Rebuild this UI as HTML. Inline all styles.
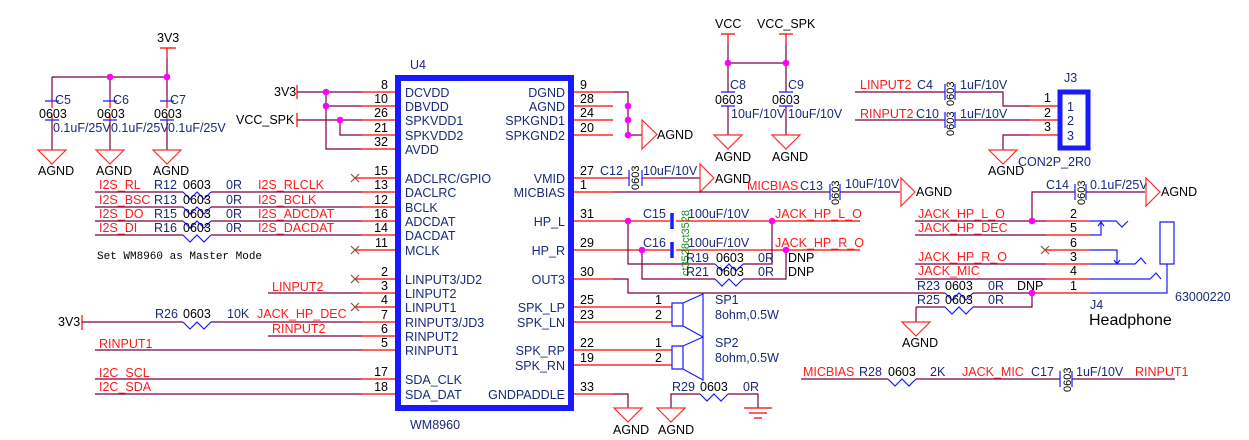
<!DOCTYPE html>
<html><head><meta charset="utf-8"><style>
html,body{margin:0;padding:0;background:#fff;width:1249px;height:440px;overflow:hidden}
svg{display:block}
text{font-family:"Liberation Sans",Arial,sans-serif;font-size:12.5px;fill:#1a2a7a}
.r{fill:#ff1a1a}.k{fill:#000}.g{fill:#1a8a1a}
.w{stroke:#7a0040;stroke-width:1.2;fill:none}
.p{stroke:#ff0000;stroke-width:1.2;fill:none}
.b{stroke:#1a1aff;stroke-width:1.2;fill:none}
.gnd{stroke:#ff2a2a;stroke-width:1.2;fill:#fff}
.d{fill:#ff00ff}
.m{font-family:"Liberation Mono",monospace;font-size:11px;fill:#000}
.x{stroke:#8a5040;stroke-width:1.2}
</style></head><body>
<svg width="1249" height="440" viewBox="0 0 1249 440" xmlns="http://www.w3.org/2000/svg">
<rect x="398" y="78" width="173" height="330" fill="none" stroke="#1a1aff" stroke-width="6"/>
<text x="410" y="69">U4</text>
<text x="410" y="429">WM8960</text>

<g class="p">
<path d="M362 92H395M362 106H395M362 120H395M362 135H395M362 149H395M355 178H395M362 192H395M362 207H395M362 221H395M362 235H395M355 250H395M355 279H395M362 293H395M355 307H395M362 322H395M362 336H395M362 350H395M362 379H395M362 394H395"/>
</g>
<g text-anchor="end">
<text class="k" x="388" y="89">8</text><text class="k" x="388" y="103">10</text><text class="k" x="388" y="117">26</text><text class="k" x="388" y="132">21</text><text class="k" x="388" y="146">32</text>
<text class="k" x="388" y="175">15</text><text class="k" x="388" y="189">13</text><text class="k" x="388" y="204">12</text><text class="k" x="388" y="218">16</text><text class="k" x="388" y="232">14</text><text class="k" x="388" y="247">11</text>
<text class="k" x="388" y="276">2</text><text class="k" x="388" y="290">3</text><text class="k" x="388" y="304">4</text><text class="k" x="388" y="319">7</text><text class="k" x="388" y="333">6</text><text class="k" x="388" y="347">5</text>
<text class="k" x="388" y="376">17</text><text class="k" x="388" y="391">18</text>
</g>
<g>
<text x="405" y="97">DCVDD</text><text x="405" y="111">DBVDD</text><text x="405" y="125">SPKVDD1</text><text x="405" y="140">SPKVDD2</text><text x="405" y="154">AVDD</text>
<text x="405" y="183">ADCLRC/GPIO</text><text x="405" y="197">DACLRC</text><text x="405" y="212">BCLK</text><text x="405" y="226">ADCDAT</text><text x="405" y="240">DACDAT</text><text x="405" y="255">MCLK</text>
<text x="405" y="284">LINPUT3/JD2</text><text x="405" y="298">LINPUT2</text><text x="405" y="312">LINPUT1</text><text x="405" y="327">RINPUT3/JD3</text><text x="405" y="341">RINPUT2</text><text x="405" y="355">RINPUT1</text>
<text x="405" y="384">SDA_CLK</text><text x="405" y="399">SDA_DAT</text>
</g>
<g class="p"><path d="M574 92H613M574 106H613M574 120H613M574 135H613M574 178H613M574 192H613M574 221H613M574 250H613M574 279H613M574 307H613M574 322H613M574 350H613M574 365H613M574 394H613"/></g>
<g text-anchor="end">
<text x="565" y="97">DGND</text><text x="565" y="111">AGND</text><text x="565" y="125">SPKGND1</text><text x="565" y="140">SPKGND2</text>
<text x="565" y="183">VMID</text><text x="565" y="197">MICBIAS</text><text x="565" y="226">HP_L</text><text x="565" y="255">HP_R</text><text x="565" y="284">OUT3</text>
<text x="565" y="312">SPK_LP</text><text x="565" y="327">SPK_LN</text><text x="565" y="355">SPK_RP</text><text x="565" y="370">SPK_RN</text><text x="565" y="399">GNDPADDLE</text>
</g>
<g>
<text class="k" x="580" y="89">9</text><text class="k" x="580" y="103">28</text><text class="k" x="580" y="117">24</text><text class="k" x="580" y="132">20</text>
<text class="k" x="580" y="175">27</text><text class="k" x="580" y="189">1</text><text class="k" x="580" y="218">31</text><text class="k" x="580" y="247">29</text><text class="k" x="580" y="276">30</text>
<text class="k" x="580" y="304">25</text><text class="k" x="580" y="319">23</text><text class="k" x="580" y="347">22</text><text class="k" x="580" y="362">19</text><text class="k" x="580" y="391">33</text>
</g>

<text class="k" x="157" y="42">3V3</text>
<path class="p" d="M160 48H176M167 48V58"/>
<path class="w" d="M167 58V77M52 77H167M52 77V101M110 77V101M167 77V101M52 120V150M110 120V150M167 120V150"/>
<path class="b" d="M45 101H59M45 120H59M103 101H117M103 120H117M160 101H174M160 120H174"/>
<path class="p" d="M52 101V108M52 114V120M110 101V108M110 114V120M167 101V108M167 114V120"/>
<circle class="d" cx="110" cy="77" r="3.3"/><circle class="d" cx="167" cy="77" r="3.3"/>
<text x="55" y="104">C5</text><text x="113" y="104">C6</text><text x="170" y="104">C7</text>
<text class="k" x="39" y="118">0603</text><text class="k" x="97" y="118">0603</text><text class="k" x="154" y="118">0603</text>
<text x="53" y="132">0.1uF/25V</text><text x="111" y="132">0.1uF/25V</text><text x="168" y="132">0.1uF/25V</text>
<path class="gnd" d="M38 150H66L52 164Z M96 150H124L110 164Z M153 150H181L167 164Z"/>
<text class="k" x="38" y="175">AGND</text><text class="k" x="96" y="175">AGND</text><text class="k" x="153" y="175">AGND</text>

<text class="k" x="274" y="96">3V3</text>
<path class="p" d="M297 85V99"/>
<path class="w" d="M297 92H362M326 92V149H362M326 106H362"/>
<circle class="d" cx="326" cy="92" r="3.3"/><circle class="d" cx="326" cy="106" r="3.3"/>
<text class="k" x="236" y="124">VCC_SPK</text>
<path class="p" d="M297 113V127"/>
<path class="w" d="M297 120H362M340 120V135H362"/>
<circle class="d" cx="340" cy="120" r="3.3"/>

<path class="w" d="M95 192H183M211 192H362M95 207H183M211 207H362M95 221H183M211 221H362M95 235H183M211 235H362"/>
<path class="b" d="M183 192L190 199L197 192L204 199L211 192M183 207L190 214L197 207L204 214L211 207M183 221L190 228L197 221L204 228L211 221M183 235L190 242L197 235L204 242L211 235"/>
<text class="r" x="99" y="189">I2S_RL</text><text class="r" x="99" y="204">I2S_BSC</text><text class="r" x="99" y="218">I2S_DO</text><text class="r" x="99" y="232">I2S_DI</text>
<text x="154" y="189">R12</text><text x="154" y="204">R13</text><text x="154" y="218">R15</text><text x="154" y="232">R16</text>
<text class="k" x="183" y="189">0603</text><text class="k" x="183" y="204">0603</text><text class="k" x="183" y="218">0603</text><text class="k" x="183" y="232">0603</text>
<text x="226" y="189">0R</text><text x="226" y="204">0R</text><text x="226" y="218">0R</text><text x="226" y="232">0R</text>
<text class="r" x="258" y="189">I2S_RLCLK</text><text class="r" x="258" y="204">I2S_BCLK</text><text class="r" x="258" y="218">I2S_ADCDAT</text><text class="r" x="258" y="232">I2S_DACDAT</text>
<path class="x" d="M351 174L359 182M359 174L351 182M351 246L359 254M359 246L351 254M351 275L359 283M359 275L351 283M351 303L359 311M359 303L351 311"/>
<text class="m" x="97" y="259">Set WM8960 as Master Mode</text>

<text class="r" x="272" y="291">LINPUT2</text><path class="w" d="M268 293H362"/>
<text class="k" x="58" y="326">3V3</text><path class="p" d="M82 315V330"/>
<path class="w" d="M82 322H183M211 322H362"/>
<path class="b" d="M183 322L190 329L197 322L204 329L211 322"/>
<text x="155" y="318">R26</text><text class="k" x="183" y="318">0603</text><text x="227" y="318">10K</text>
<text class="r" x="257" y="318">JACK_HP_DEC</text>
<text class="r" x="272" y="333">RINPUT2</text><path class="w" d="M268 336H362"/>
<text class="r" x="99" y="348">RINPUT1</text><path class="w" d="M95 350H362"/>
<text class="r" x="99" y="377">I2C_SCL</text><path class="w" d="M95 379H362"/>
<text class="r" x="99" y="391">I2C_SDA</text><path class="w" d="M95 394H362"/>

<path class="w" d="M613 92H628V135H642"/>
<circle class="d" cx="628" cy="106" r="3.3"/><circle class="d" cx="628" cy="120" r="3.3"/><circle class="d" cx="628" cy="135" r="3.3"/>
<path class="gnd" d="M642 120V149L657 134.5Z"/><text class="k" x="657" y="139">AGND</text>

<path class="p" d="M613 178H629M642 178H660"/><path class="w" d="M660 178H700"/>
<path class="b" d="M629 170V186M642 170V186"/>
<text x="600" y="175">C12</text>
<text class="k" transform="translate(639,190) rotate(-90)" style="font-size:11px">0603</text>
<text x="643" y="175">10uF/10V</text>
<path class="gnd" d="M700 164V192L714 178Z"/><text class="k" x="715" y="183">AGND</text>

<path class="w" d="M613 192H830M840 192H900"/>
<path class="b" d="M830 184V200M840 184V200"/>
<text class="r" x="747" y="190">MICBIAS</text><text x="800" y="190">C13</text>
<text class="k" transform="translate(839,205) rotate(-90)" style="font-size:11px">0603</text>
<text x="845" y="188">10uF/10V</text>
<path class="gnd" d="M901 178V206L915 192Z"/><text class="k" x="916" y="196">AGND</text>

<path class="p" d="M613 221H670M676 221H860M613 250H670M676 250H860"/>
<path stroke="#1a1aff" stroke-width="3.5" d="M672 213V229M672 242V258"/>
<path class="w" d="M628 221V264H715M743 264H772V221M642 250V279H715M743 279H786V250"/>
<path class="b" d="M715 264L722 271L729 264L736 271L743 264M715 279L722 286L729 279L736 286L743 279"/>
<circle class="d" cx="628" cy="221" r="3.3"/><circle class="d" cx="642" cy="250" r="3.3"/><circle class="d" cx="772" cy="221" r="3.3"/><circle class="d" cx="786" cy="250" r="3.3"/>
<text x="643" y="218">C15</text><text x="643" y="247">C16</text>
<text x="688" y="218">100uF/10V</text><text x="688" y="247">100uF/10V</text>
<text class="g" transform="translate(689,243) rotate(-90)" style="font-size:11px">ct3528</text>
<text class="g" transform="translate(689,276) rotate(-90)" style="font-size:11px">ct3528</text>
<text class="r" x="775" y="218">JACK_HP_L_O</text><text class="r" x="775" y="247">JACK_HP_R_O</text>
<text x="686" y="262">R19</text><text class="k" x="716" y="262">0603</text><text x="758" y="262">0R</text><text class="k" x="788" y="262">DNP</text>
<text x="686" y="276">R21</text><text class="k" x="716" y="276">0603</text><text x="758" y="276">0R</text><text class="k" x="788" y="276">DNP</text>

<path class="w" d="M613 279H628V293H945M973 293H1032"/>

<path class="p" d="M613 307H672M613 322H672M613 350H672M613 365H672"/>
<path class="b" d="M672 303H683V326H672ZM683 303L703 294V337L683 326M672 346H683V369H672ZM683 346L703 337V380L683 369"/>
<text class="k" x="655" y="304">1</text><text class="k" x="655" y="319">2</text><text class="k" x="655" y="347">1</text><text class="k" x="655" y="362">2</text>
<text x="715" y="304">SP1</text><text x="715" y="319">8ohm,0.5W</text><text x="715" y="347">SP2</text><text x="715" y="362">8ohm,0.5W</text>

<path class="w" d="M613 394H628V408M671 408V394H700M728 394H758V408"/>
<path class="b" d="M700 394L707 401L714 394L721 401L728 394"/>
<path class="gnd" d="M614 408H642L628 422Z M657 408H685L671 422Z"/>
<path class="p" d="M744 408H772M749 413H767M754 418H762"/>
<text class="k" x="613" y="434">AGND</text><text class="k" x="658" y="434">AGND</text>
<text x="672" y="391">R29</text><text class="k" x="700" y="391">0603</text><text x="743" y="391">0R</text>

<text class="k" x="715" y="28">VCC</text><text class="k" x="757" y="28">VCC_SPK</text>
<path class="p" d="M721 34H735M728 34V44M779 34H793M786 34V44"/>
<path class="w" d="M728 44V92M786 44V92M728 63H786M728 106V135M786 106V135"/>
<circle class="d" cx="728" cy="63" r="3.3"/><circle class="d" cx="786" cy="63" r="3.3"/>
<path class="b" d="M721 92H735M721 106H735M779 92H793M779 106H793"/>
<text x="730" y="89">C8</text><text x="788" y="89">C9</text>
<text class="k" x="715" y="104">0603</text><text class="k" x="772" y="104">0603</text>
<text x="731" y="118">10uF/10V</text><text x="788" y="118">10uF/10V</text>
<path class="gnd" d="M714 135H742L728 149Z M772 135H800L786 149Z"/>
<text class="k" x="715" y="161">AGND</text><text class="k" x="772" y="161">AGND</text>

<text class="r" x="860" y="89">LINPUT2</text><text x="917" y="89">C4</text>
<text class="r" x="860" y="118">RINPUT2</text><text x="916" y="118">C10</text>
<path class="w" d="M855 92H945M955 92H1003V106H1030M855 120H945M955 120H1030M1030 135H1003V150"/>
<path class="b" d="M945 84V100M955 84V100M945 112V128M955 112V128"/>
<text class="k" transform="translate(954,106) rotate(-90)" style="font-size:11px">0603</text>
<text class="k" transform="translate(954,136) rotate(-90)" style="font-size:11px">0603</text>
<text x="960" y="89">1uF/10V</text><text x="960" y="118">1uF/10V</text>
<path class="p" d="M1030 106H1058M1030 120H1058M1030 135H1058"/>
<text class="k" x="1044" y="102">1</text><text class="k" x="1044" y="117">2</text><text class="k" x="1044" y="131">3</text>
<rect x="1060" y="92" width="28" height="56" fill="none" stroke="#1a1aff" stroke-width="5"/>
<text x="1067" y="111">1</text><text x="1067" y="125">2</text><text x="1067" y="140">3</text>
<text x="1064" y="82">J3</text>
<path class="gnd" d="M989 150H1017L1003 164Z"/><text class="k" x="988" y="175">AGND</text>
<text x="1018" y="166">CON2P_2R0</text>

<path class="w" d="M1032 221V192H1075M1086 192H1145"/>
<path class="b" d="M1075 184V200M1086 184V200"/>
<text x="1046" y="189">C14</text>
<text class="k" transform="translate(1085,205) rotate(-90)" style="font-size:11px">0603</text>
<text x="1090" y="189">0.1uF/25V</text>
<path class="gnd" d="M1146 178V206L1160 192Z"/><text class="k" x="1161" y="196">AGND</text>
<path class="w" d="M915 221H1046M915 235H1046M915 264H1046M915 279H1046M916 307H945M973 307H1032V293"/>
<path class="p" d="M1046 221H1090M1046 235H1090M1046 250H1090M1046 264H1090M1046 279H1090M1032 293H1090"/>
<circle class="d" cx="1032" cy="221" r="3.3"/><circle class="d" cx="1032" cy="293" r="3.3"/>
<path class="x" d="M1041 246L1049 254M1049 246L1041 254"/>
<path class="b" d="M945 293L952 300L959 293L966 300L973 293M945 307L952 314L959 307L966 314L973 307"/>
<path class="b" d="M1090 221H1116L1122 227L1128 221M1090 235H1101V222M1098 226L1101 222L1104 226M1090 250H1117V264M1114 260L1117 264L1120 260M1090 264H1135L1141 258L1146 264M1090 279H1150L1156 273L1161 279M1090 293H1167V264M1160 222H1174V264H1160Z"/>
<text class="r" x="918" y="218">JACK_HP_L_O</text><text class="r" x="918" y="232">JACK_HP_DEC</text>
<text class="r" x="918" y="261">JACK_HP_R_O</text><text class="r" x="918" y="275">JACK_MIC</text>
<text class="k" x="1070" y="218">2</text><text class="k" x="1070" y="232">5</text><text class="k" x="1070" y="247">6</text>
<text class="k" x="1070" y="261">3</text><text class="k" x="1070" y="275">4</text><text class="k" x="1070" y="290">1</text>
<text x="917" y="290">R23</text><text class="k" x="945" y="290">0603</text><text x="988" y="290">0R</text><text class="k" x="1017" y="290">DNP</text>
<text x="917" y="304">R25</text><text class="k" x="945" y="304">0603</text><text x="988" y="304">0R</text>
<path class="w" d="M916 307V322"/>
<path class="gnd" d="M902 322H930L916 336Z"/><text class="k" x="902" y="347">AGND</text>
<text x="1090" y="309">J4</text>
<text class="k" x="1089" y="325" style="font-size:16px">Headphone</text>
<text x="1175" y="301">63000220</text>

<path class="w" d="M801 379H888M916 379H1060M1072 379H1175"/>
<path class="b" d="M888 379L895 386L902 379L909 386L916 379M1060 371V387M1072 371V387"/>
<text class="r" x="803" y="376">MICBIAS</text><text x="859" y="376">R28</text><text class="k" x="888" y="376">0603</text>
<text x="930" y="376">2K</text><text class="r" x="962" y="376">JACK_MIC</text><text x="1031" y="376">C17</text>
<text class="k" transform="translate(1071,392) rotate(-90)" style="font-size:11px">0603</text>
<text x="1076" y="376">1uF/10V</text><text class="r" x="1135" y="376">RINPUT1</text>
</svg>
</body></html>
